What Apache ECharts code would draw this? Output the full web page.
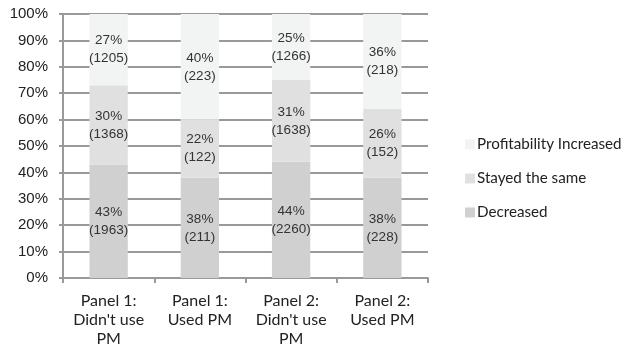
<!DOCTYPE html>
<html>
<head>
    <meta http-equiv="Content-Type" content="text/html; charset=utf-8" />
    <script type="text/javascript" src="https://cdn.jsdelivr.net/npm/echarts@6/dist/echarts.min.js"></script>
    <title>Profitability</title>
    <style>
        html, body { margin: 0; padding: 0; background: #fff; }
        #chart { width: 626px; height: 350px; }
    </style>
</head>
<body>
    <div id="chart"></div>
</body>
</html>
<script type="text/javascript">
var categories = ["Panel 1:\nDidn't use\nPM", "Panel 1:\nUsed PM", "Panel 2:\nDidn't use\nPM", "Panel 2:\nUsed PM"];
var yTicks = [0, 10, 20, 30, 40, 50, 60, 70, 80, 90, 100];

// percentages for each segment
var decreasedPct = [43, 38, 44, 38];
var stayedPct = [30, 22, 31, 26];
var increasedPct = [27, 40, 25, 36];

// counts shown in brackets
var decreasedN = [1963, 211, 2260, 228];
var stayedN = [1368, 122, 1638, 152];
var increasedN = [1205, 223, 1266, 218];

var chart = echarts.init(document.getElementById('chart'));

function seg(name, pct, counts, color) {
    return {
        name: name,
        type: 'bar',
        stack: 'total',
        barWidth: '42%',
        data: pct,
        itemStyle: { color: color },
        label: {
            show: true,
            position: 'inside',
            color: '#333',
            fontFamily: 'Liberation Sans, Arial',
            fontSize: 13.5,
            lineHeight: 18,
            formatter: function (p) {
                return p.value + '%\n(' + counts[p.dataIndex] + ')';
            }
        }
    };
}

chart.setOption({
    animation: false,
    grid: { left: 63, right: 198, top: 14, bottom: 72 },
    legend: {
        orient: 'vertical',
        left: 460,
        top: 132,
        itemWidth: 10,
        itemHeight: 10,
        itemGap: 19,
        icon: 'rect',
        textStyle: { color: '#222', fontSize: 15.2, fontFamily: 'Lato, sans-serif', padding: [0, 0, 0, -3] },
        data: ['Profitability Increased', 'Stayed the same', 'Decreased']
    },
    xAxis: {
        type: 'category',
        data: categories,
        axisLine: { show: true, lineStyle: { color: '#999', width: 2 } },
        axisTick: { show: true, length: 5, lineStyle: { color: '#999', width: 2 } },
        axisLabel: {
            interval: 0,
            color: '#222',
            fontSize: 16,
            lineHeight: 19,
            margin: 13,
            fontFamily: 'Lato, sans-serif'
        }
    },
    yAxis: {
        type: 'value',
        min: 0,
        max: 100,
        interval: 10,
        axisLine: { show: true, lineStyle: { color: '#999', width: 2 } },
        axisTick: { show: true, length: 4, lineStyle: { color: '#999', width: 2 } },
        splitLine: { show: true, lineStyle: { color: '#999', width: 2 } },
        axisLabel: {
            color: '#222',
            fontSize: 15,
            margin: 15,
            fontFamily: 'Liberation Sans, Arial',
            formatter: function (v) { return yTicks.indexOf(v) >= 0 ? v + '%' : ''; }
        }
    },
    series: [
        seg('Decreased', decreasedPct, decreasedN, '#d0d0d0'),
        seg('Stayed the same', stayedPct, stayedN, '#e0e0e1'),
        seg('Profitability Increased', increasedPct, increasedN, '#f2f3f3')
    ]
});
</script>
